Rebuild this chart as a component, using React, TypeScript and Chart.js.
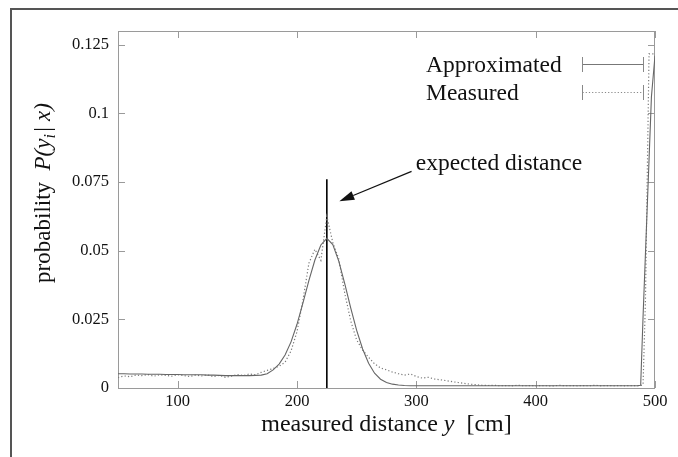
import React, { useEffect, useRef } from "react";
import { Chart, registerables } from "chart.js";

Chart.register(...registerables);

// ---- data ----
const distances = [
  50, 55, 60, 65, 70, 75, 80, 85, 90, 95,
  100, 105, 110, 115, 120, 125, 130, 135, 140, 145,
  150, 155, 160, 165, 170, 175, 180, 185, 190, 195,
  200, 205, 210, 215, 220, 225, 230, 235, 240, 245,
  250, 255, 260, 265, 270, 275, 280, 285, 290, 295,
  300, 305, 310, 315, 320, 325, 330, 335, 340, 345,
  350, 355, 360, 365, 370, 375, 380, 385, 390, 395,
  400, 405, 410, 415, 420, 425, 430, 435, 440, 445,
  450, 455, 460, 465, 470, 475, 480, 485, 488, 490,
  492, 495, 497, 500,
];

const approximated = [
  0.0052, 0.0052, 0.0051, 0.0051, 0.0051, 0.005, 0.005, 0.005, 0.0049, 0.0049,
  0.0049, 0.0048, 0.0048, 0.0048, 0.0048, 0.0047, 0.0047, 0.0046, 0.0045, 0.0045,
  0.0045, 0.0045, 0.0045, 0.0046, 0.0047, 0.0052, 0.0066, 0.0087, 0.012, 0.0168,
  0.0232, 0.031, 0.0392, 0.0466, 0.0521, 0.0545, 0.0522, 0.0462, 0.038, 0.0292,
  0.021, 0.0142, 0.009, 0.0054, 0.0032, 0.002, 0.0014, 0.0011, 0.0009, 0.0008,
  0.0008, 0.0008, 0.0008, 0.0008, 0.0008, 0.0008, 0.0008, 0.0008, 0.0008, 0.0008,
  0.0008, 0.0008, 0.0008, 0.0008, 0.0008, 0.0008, 0.0008, 0.0008, 0.0008, 0.0008,
  0.0008, 0.0008, 0.0008, 0.0008, 0.0008, 0.0008, 0.0008, 0.0008, 0.0008, 0.0008,
  0.0008, 0.0008, 0.0008, 0.0008, 0.0008, 0.0008, 0.0008, 0.0008, 0.001, 0.026,
  0.049, 0.083, 0.106, 0.121,
];

const measured = [
  0.0038, 0.0044, 0.0041, 0.0047, 0.0045, 0.0049, 0.0043, 0.0048, 0.0046, 0.0043,
  0.0049, 0.0045, 0.0042, 0.0047, 0.0044, 0.0048, 0.0041, 0.0046, 0.0039, 0.0043,
  0.0049, 0.0045, 0.0051, 0.0048, 0.0057, 0.0064, 0.0071, 0.0079, 0.0094, 0.0135,
  0.0205, 0.032, 0.0455, 0.0505, 0.0465, 0.0625, 0.053, 0.047, 0.0345, 0.0245,
  0.0175, 0.0138, 0.0112, 0.0088, 0.0073, 0.0066, 0.0058, 0.0052, 0.0047, 0.0051,
  0.0042, 0.0036, 0.0039, 0.0033, 0.003, 0.0027, 0.0023, 0.002, 0.0017, 0.0014,
  0.0012, 0.001, 0.0009, 0.001, 0.0008, 0.0009, 0.0008, 0.001, 0.0008, 0.0009,
  0.0008, 0.0009, 0.0008, 0.0008, 0.001, 0.0008, 0.0009, 0.0008, 0.0009, 0.0008,
  0.001, 0.0008, 0.0009, 0.0008, 0.0009, 0.0008, 0.0009, 0.0008, 0.0009, 0.0012,
  0.032, 0.1217, 0.1217, 0.1217,
];

const xTickValues = [100, 200, 300, 400, 500];
const yTickValues = [0, 0.025, 0.05, 0.075, 0.1, 0.125];
const yTickLabels = ["0", "0.025", "0.05", "0.075", "0.1", "0.125"];

const seriesNames = ["Approximated", "Measured"];

const expectedDistance = 225;
const expectedLineTop = 0.076;
const annotationText = "expected distance";
const annotationTextAt = [299.5, 0.0795]; // x, y (data units) of text baseline-left
const arrowTail = [296, 0.0789];
const arrowTip = [235.5, 0.068];

const X_MIN = 50;
const X_MAX = 500;
const Y_MIN = 0;
const Y_MAX = 0.13;

const SERIF = "'Liberation Serif', 'Times New Roman', serif";

const decorPlugin = {
  id: "gnuplotDecor",
  beforeDatasetsDraw(chart: any) {
    const { ctx, chartArea } = chart;
    const { left, right, top, bottom } = chartArea;
    const xs = chart.scales.x;
    const ys = chart.scales.y;
    ctx.save();
    ctx.strokeStyle = "#9a9a9a";
    ctx.lineWidth = 1;
    ctx.strokeRect(left + 0.5, top + 0.5, right - left - 1, bottom - top);
    ctx.beginPath();
    const tl = 7;
    xTickValues.forEach((v) => {
      const px = Math.round(xs.getPixelForValue(v)) + 0.5;
      ctx.moveTo(px, bottom);
      ctx.lineTo(px, bottom - tl);
      ctx.moveTo(px, top);
      ctx.lineTo(px, top + tl);
    });
    yTickValues.forEach((v) => {
      const py = Math.round(ys.getPixelForValue(v)) + 0.5;
      ctx.moveTo(left, py);
      ctx.lineTo(left + tl, py);
      ctx.moveTo(right, py);
      ctx.lineTo(right - tl, py);
    });
    ctx.stroke();
    ctx.restore();
  },
  afterDraw(chart: any) {
    const { ctx, chartArea } = chart;
    const xs = chart.scales.x;
    const ys = chart.scales.y;
    ctx.save();

    // outer frame (cropped figure border)
    ctx.strokeStyle = "#555";
    ctx.lineWidth = 2;
    ctx.beginPath();
    ctx.moveTo(11, 457);
    ctx.lineTo(11, 9);
    ctx.lineTo(678, 9);
    ctx.stroke();

    ctx.fillStyle = "#111";
    ctx.textBaseline = "alphabetic";

    // x axis title
    const f = 24;
    const partsX = [
      { t: "measured distance ", it: false },
      { t: "y", it: true },
      { t: "  [cm]", it: false },
    ];
    let total = 0;
    partsX.forEach((p) => {
      ctx.font = `${p.it ? "italic " : ""}${f}px ${SERIF}`;
      total += ctx.measureText(p.t).width;
    });
    let cx = (chartArea.left + chartArea.right) / 2 - total / 2;
    partsX.forEach((p) => {
      ctx.font = `${p.it ? "italic " : ""}${f}px ${SERIF}`;
      ctx.textAlign = "left";
      ctx.fillText(p.t, cx, 431);
      cx += ctx.measureText(p.t).width;
    });

    // y axis title (rotated)
    const fy = 23;
    const partsY = [
      { t: "probability  ", it: false, sub: false },
      { t: "P(y", it: true, sub: false },
      { t: "i", it: true, sub: true },
      { t: "| x)", it: true, sub: false },
    ];
    let totY = 0;
    partsY.forEach((p) => {
      ctx.font = `${p.it ? "italic " : ""}${p.sub ? fy * 0.7 : fy}px ${SERIF}`;
      totY += ctx.measureText(p.t).width;
    });
    ctx.save();
    ctx.translate(50, (chartArea.top + chartArea.bottom) / 2 - 16);
    ctx.rotate(-Math.PI / 2);
    let ty = -totY / 2;
    partsY.forEach((p) => {
      ctx.font = `${p.it ? "italic " : ""}${p.sub ? fy * 0.7 : fy}px ${SERIF}`;
      ctx.textAlign = "left";
      ctx.fillText(p.t, ty, p.sub ? 5 : 0);
      ty += ctx.measureText(p.t).width + (p.sub ? 1 : 0);
    });
    ctx.restore();

    // legend
    ctx.font = `23.5px ${SERIF}`;
    ctx.textAlign = "left";
    ctx.fillStyle = "#111";
    const legY = [64, 92];
    seriesNames.forEach((name, i) => {
      ctx.fillText(name, 426, legY[i] + 8);
    });
    const lx0 = 582.5;
    const lx1 = 643.5;
    ctx.lineWidth = 1;
    // solid sample
    ctx.strokeStyle = "#777";
    ctx.setLineDash([]);
    ctx.beginPath();
    ctx.moveTo(lx0, legY[0] + 0.5);
    ctx.lineTo(lx1, legY[0] + 0.5);
    ctx.stroke();
    // dotted sample
    ctx.strokeStyle = "#888";
    ctx.setLineDash([1.2, 2]);
    ctx.beginPath();
    ctx.moveTo(lx0, legY[1] + 0.5);
    ctx.lineTo(lx1, legY[1] + 0.5);
    ctx.stroke();
    ctx.setLineDash([]);
    // end caps
    ctx.strokeStyle = "#888";
    ctx.beginPath();
    legY.forEach((y) => {
      ctx.moveTo(lx0, y - 7);
      ctx.lineTo(lx0, y + 8);
      ctx.moveTo(lx1, y - 7);
      ctx.lineTo(lx1, y + 8);
    });
    ctx.stroke();

    // annotation text
    ctx.fillStyle = "#111";
    ctx.font = `23.5px ${SERIF}`;
    ctx.fillText(
      annotationText,
      xs.getPixelForValue(annotationTextAt[0]),
      ys.getPixelForValue(annotationTextAt[1])
    );

    // arrow
    const tx = xs.getPixelForValue(arrowTail[0]);
    const tyy = ys.getPixelForValue(arrowTail[1]);
    const hx = xs.getPixelForValue(arrowTip[0]);
    const hy = ys.getPixelForValue(arrowTip[1]);
    const ang = Math.atan2(hy - tyy, hx - tx);
    const hl = 15;
    const hw = 4.5;
    const bx = hx - hl * Math.cos(ang);
    const by = hy - hl * Math.sin(ang);
    ctx.strokeStyle = "#111";
    ctx.lineWidth = 1.2;
    ctx.beginPath();
    ctx.moveTo(tx, tyy);
    ctx.lineTo(bx, by);
    ctx.stroke();
    ctx.fillStyle = "#111";
    ctx.beginPath();
    ctx.moveTo(hx, hy);
    ctx.lineTo(bx + hw * Math.sin(ang), by - hw * Math.cos(ang));
    ctx.lineTo(bx - hw * Math.sin(ang), by + hw * Math.cos(ang));
    ctx.closePath();
    ctx.fill();

    ctx.restore();
  },
};

export default function App() {
  const canvasRef = useRef<HTMLCanvasElement | null>(null);

  useEffect(() => {
    if (!canvasRef.current) return;
    const chart = new Chart(canvasRef.current, {
      type: "line",
      data: {
        datasets: [
          {
            label: seriesNames[0],
            data: distances.map((x, i) => ({ x, y: approximated[i] })),
            borderColor: "#666",
            borderWidth: 1.1,
            pointRadius: 0,
            tension: 0,
            fill: false,
          },
          {
            label: seriesNames[1],
            data: distances.map((x, i) => ({ x, y: measured[i] })),
            borderColor: "#7a7a7a",
            borderWidth: 1.2,
            borderDash: [1.2, 2.2],
            pointRadius: 0,
            tension: 0,
            fill: false,
          },
          {
            label: annotationText,
            data: [
              { x: expectedDistance, y: 0 },
              { x: expectedDistance, y: expectedLineTop },
            ],
            borderColor: "#000",
            borderWidth: 1.6,
            pointRadius: 0,
            fill: false,
          },
        ],
      },
      options: {
        responsive: false,
        animation: false,
        devicePixelRatio: 1,
        layout: { padding: { left: 0, right: 23, top: 31, bottom: 0 } },
        plugins: {
          legend: { display: false },
          tooltip: { enabled: false },
        },
        scales: {
          x: {
            type: "linear",
            min: X_MIN,
            max: X_MAX,
            afterBuildTicks: (scale: any) => {
              scale.ticks = xTickValues.map((v) => ({ value: v }));
            },
            afterFit: (scale: any) => {
              scale.height = 69;
            },
            grid: { display: false, drawTicks: false },
            border: { display: false },
            ticks: {
              autoSkip: false,
              maxRotation: 0,
              padding: 4,
              color: "#111",
              font: { family: SERIF, size: 16.5 },
              callback: (v: any) => String(v),
            },
          },
          y: {
            type: "linear",
            min: Y_MIN,
            max: Y_MAX,
            afterBuildTicks: (scale: any) => {
              scale.ticks = yTickValues.map((v) => ({ value: v }));
            },
            afterFit: (scale: any) => {
              scale.width = 118;
            },
            grid: { display: false, drawTicks: false },
            border: { display: false },
            ticks: {
              autoSkip: false,
              padding: 9,
              color: "#111",
              font: { family: SERIF, size: 16.5 },
              callback: (v: any) => {
                const idx = yTickValues.findIndex((t) => Math.abs(t - v) < 1e-9);
                return idx >= 0 ? yTickLabels[idx] : "";
              },
            },
          },
        },
      },
      plugins: [decorPlugin],
    } as any);
    return () => chart.destroy();
  }, []);

  return (
    <div
      style={{
        position: "fixed",
        left: 0,
        top: 0,
        width: 678,
        height: 457,
        background: "#fff",
      }}
    >
      <canvas
        ref={canvasRef}
        width={678}
        height={457}
        style={{ display: "block", width: 678, height: 457 }}
      />
    </div>
  );
}
